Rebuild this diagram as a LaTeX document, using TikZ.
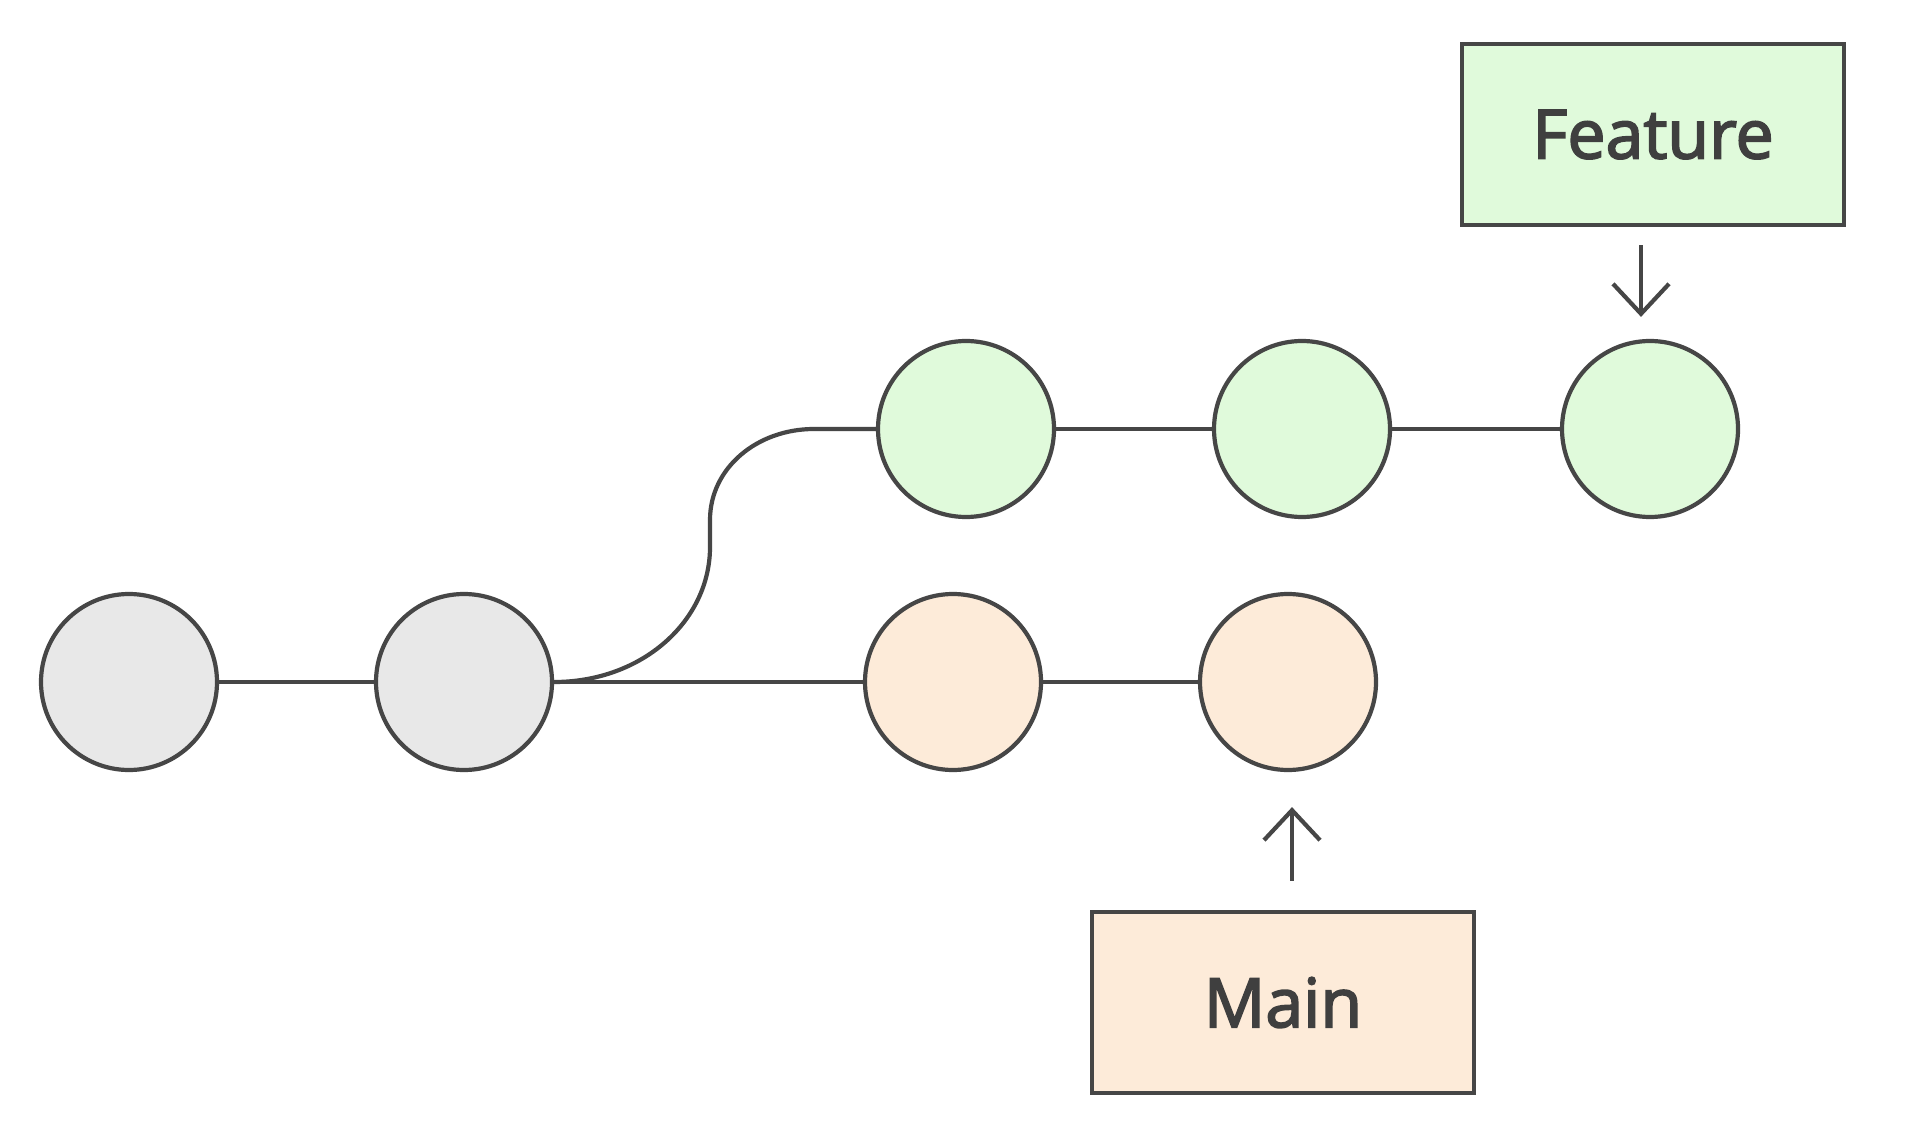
\documentclass[tikz,border=0pt]{standalone}
\usepackage{fontspec}
\setmainfont{Open Sans}
\newfontface\labelfont{Open Sans}[FakeBold=2.6]
\usetikzlibrary{arrows.meta,calc}
\definecolor{strokec}{HTML}{464646}
\definecolor{grayfill}{HTML}{E8E8E8}
\definecolor{greenfill}{HTML}{E0FADB}
\definecolor{orangefill}{HTML}{FDEBD9}
\definecolor{textc}{HTML}{3F3F3F}
\begin{document}
\begin{tikzpicture}[x=0.5pt,y=-0.5pt,
  commit/.style={circle,draw=strokec,line width=2.1pt,minimum size=88pt,inner sep=0pt},
  label box/.style={rectangle,draw=strokec,line width=2.2pt,minimum width=191pt,minimum height=90.5pt,inner sep=0pt,text=textc,font=\labelfont\fontsize{34}{40}\selectfont},
  link/.style={draw=strokec,line width=2.1pt},
  arr/.style={draw=strokec,line width=2.1pt,-{Straight Barb[length=15pt,width=28pt,line width=2.1pt]}}]
\useasboundingbox[fill=white] (0,0) rectangle (1920,1122);
% commits
\node[commit,fill=grayfill] (g1) at (129,682) {};
\node[commit,fill=grayfill] (g2) at (464,682) {};
\node[commit,fill=orangefill] (o1) at (953,682) {};
\node[commit,fill=orangefill] (o2) at (1288,682) {};
\node[commit,fill=greenfill] (f1) at (966,429) {};
\node[commit,fill=greenfill] (f2) at (1302,429) {};
\node[commit,fill=greenfill] (f3) at (1650,429) {};
% labels
\node[label box,fill=greenfill] (feature) at (1653,134.5) {Feature};
\node[label box,fill=orangefill] (main) at (1283,1002.5) {Main};
% bend coordinates of branch
\coordinate (bendA) at (710,547);
\coordinate (bendB) at (710,520);
% connectors
\draw[link] (g1) -- (g2);
\draw[link] (g2) -- (o1);
\draw[link] (o1) -- (o2);
\draw[link] (f1) -- (f2);
\draw[link] (f2) -- (f3);
\draw[link] (g2.east) .. controls +(88,0) and +(0,74) .. (bendA) -- (bendB)
  .. controls +(0,-52) and +(-57,0) .. (f1.west -| 814,0) -- (f1.west);
% pointers
\draw[arr] ($(feature.south)+(-12,18)$) -- ($(f3.north)+(-9,-22)$);
\draw[arr] ($(main.north)+(9,-29)$) -- ($(o2.south)+(4,35)$);
\end{tikzpicture}
\end{document}
